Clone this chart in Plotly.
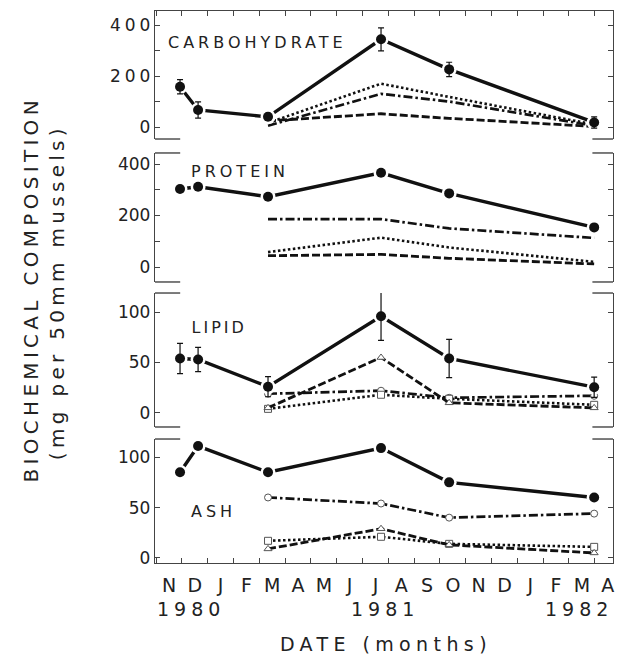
import plotly.graph_objects as go

# ---------------- data ----------------
months = ["N", "D", "J", "F", "M", "A", "M", "J", "J", "A", "S", "O", "N", "D", "J", "F", "M", "A"]
years = ["1980", "1981", "1982"]
# sampling dates, expressed in months after 1 Nov 1980
sample_months = [0.93, 1.63, 4.34, 8.72, 11.36, 16.98]
tissue_months = sample_months[2:]

carb_total = [158, 67, 40, 344, 226, 18]
carb_err = [28, 32, 14, 45, 28, 22]
carb_dot = [16, 170, 118, 10]
carb_dashdot = [5, 130, 100, 5]
carb_dash = [24, 52, 34, 2]

prot_total = [303, 312, 273, 366, 286, 154]
prot_dashdot = [186, 186, 150, 113]
prot_dot = [58, 114, 76, 20]
prot_dash = [44, 49, 34, 12]

lip_total = [54, 53, 26, 96, 54, 25.5]
lip_err = [15, 12, 10, 24, 19, 10]
lip_dashdot = [19, 22, 15, 17]
lip_dot = [4, 18, 14, 8]
lip_dash = [5, 55, 10, 5]

ash_total = [85, 111, 85, 109, 75, 60]
ash_dashdot = [60, 54, 40, 44]
ash_dot = [17, 21, 14, 11]
ash_dash = [9, 29, 13, 5]

panels = [
    dict(name="CARBOHYDRATE", total=carb_total, err=carb_err, dot=carb_dot, dashdot=carb_dashdot,
         dash=carb_dash, hollow=False),
    dict(name="PROTEIN", total=prot_total, err=None, dot=prot_dot, dashdot=prot_dashdot,
         dash=prot_dash, hollow=False),
    dict(name="LIPID", total=lip_total, err=lip_err, dot=lip_dot, dashdot=lip_dashdot,
         dash=lip_dash, hollow=True),
    dict(name="ASH", total=ash_total, err=None, dot=ash_dot, dashdot=ash_dashdot,
         dash=ash_dash, hollow=True),
]

# ---------------- style ----------------
FONT = "DejaVu Sans"
INK = "#111111"
AXC = "#444444"
XRANGE = [-0.04, 17.71]
domains = [[0.7681, 1.0], [0.5091, 0.7428], [0.2464, 0.4891], [0.0, 0.2246]]
yranges = [[-47, 455], [-58, 443], [-14, 119], [-5, 118]]
label_pos = [(0.2238, 0.9438), (0.1856, 0.7101), (0.1397, 0.4275), (0.1277, 0.0942)]

fig = go.Figure()

for i, p in enumerate(panels):
    xa = "x" if i == 0 else f"x{i+1}"
    ya = "y" if i == 0 else f"y{i+1}"
    sec = [
        (p["dashdot"], "9px,3px,2.5px,3px", 2.7, "circle"),
        (p["dot"], "2.5px,2.5px", 2.6, "square"),
        (p["dash"], "8px,3px", 2.8, "triangle-up"),
    ]
    for vals, dash, w, sym in sec:
        fig.add_trace(go.Scatter(
            x=tissue_months, y=vals, xaxis=xa, yaxis=ya,
            mode="lines+markers" if p["hollow"] else "lines",
            line=dict(color=INK, width=w, dash=dash),
            marker=dict(symbol=sym, size=7, color="white", line=dict(color="#555555", width=1)),
            showlegend=False, hoverinfo="skip"))
    # whole-body line
    fig.add_trace(go.Scatter(
        x=sample_months, y=p["total"], xaxis=xa, yaxis=ya, mode="lines",
        line=dict(color=INK, width=3.4), showlegend=False, hoverinfo="skip"))
    # white gap around points
    fig.add_trace(go.Scatter(
        x=sample_months, y=p["total"], xaxis=xa, yaxis=ya, mode="markers",
        marker=dict(size=15, color="white"), showlegend=False, hoverinfo="skip"))
    # filled points with error bars
    ey = dict(type="data", array=p["err"], visible=True, color=INK, thickness=1.2, width=3) \
        if p["err"] is not None else None
    fig.add_trace(go.Scatter(
        x=sample_months, y=p["total"], xaxis=xa, yaxis=ya, mode="markers",
        marker=dict(size=10, color=INK), error_y=ey, showlegend=False, hoverinfo="skip"))

layout = dict(
    width=617, height=662,
    margin=dict(l=155, r=4, t=11, b=99),
    paper_bgcolor="white", plot_bgcolor="white",
    font=dict(family=FONT, color="#222222"),
    showlegend=False,
)

for i in range(4):
    xk = "xaxis" if i == 0 else f"xaxis{i+1}"
    yk = "yaxis" if i == 0 else f"yaxis{i+1}"
    ya = "y" if i == 0 else f"y{i+1}"
    big = i < 2
    yax = dict(
        domain=domains[i], range=yranges[i], anchor="x" if i == 0 else f"x{i+1}",
        showgrid=False, zeroline=False, showline=True, linecolor=AXC, linewidth=1.4,
        mirror="allticks", ticks="inside", ticklen=5, tickwidth=1, tickcolor=AXC,
        tickvals=[0, 200, 400] if big else [0, 50, 100],
        tickfont=dict(family=FONT, size=17, color="#222222"),
    )
    if big:
        yax["minor"] = dict(dtick=100, tick0=0, ticks="inside", ticklen=5, tickcolor=AXC, tickwidth=1)
    layout[yk] = yax
    xax = dict(range=XRANGE, anchor=ya, showgrid=False, zeroline=False)
    if i == 0:
        xax.update(side="top", showline=True, linecolor=AXC, linewidth=1.4, ticks="inside",
                   ticklen=5, tickcolor=AXC, tickvals=list(range(18)), showticklabels=False)
    elif i == 3:
        xax.update(side="bottom", showline=True, linecolor=AXC, linewidth=1.4, ticks="inside",
                   ticklen=5, tickcolor=AXC, tickvals=list(range(18)), ticktext=months,
                   ticklabelshift=13, ticklabelstandoff=5,
                   tickfont=dict(family=FONT, size=19, color="#222222"))
    else:
        xax.update(visible=False)
    layout[xk] = xax

annotations = []
for p, (ax_, ay_) in zip(panels, label_pos):
    annotations.append(dict(text=p["name"], x=ax_, y=ay_, xref="paper", yref="paper",
                            xanchor="center", yanchor="middle", showarrow=False,
                            font=dict(family=FONT, size=16, color="#222222")))
annotations.append(dict(text="BIOCHEMICAL COMPOSITION", x=-0.2707, y=0.4946, xref="paper", yref="paper",
                        textangle=-90, xanchor="center", yanchor="middle", showarrow=False,
                        font=dict(family=FONT, size=20, color="#222222")))
annotations.append(dict(text="(mg per 50mm mussels)", x=-0.214, y=0.4909, xref="paper", yref="paper",
                        textangle=-90, xanchor="center", yanchor="middle", showarrow=False,
                        font=dict(family=FONT, size=20, color="#222222")))
for yr, xp in zip(years, [0.0786, 0.5022, 0.9258]):
    annotations.append(dict(text=yr, x=xp, y=-0.0833, xref="paper", yref="paper",
                            xanchor="center", yanchor="middle", showarrow=False,
                            font=dict(family=FONT, size=19, color="#222222")))
annotations.append(dict(text="DATE (months)", x=0.5044, y=-0.1467, xref="paper", yref="paper",
                        xanchor="center", yanchor="middle", showarrow=False,
                        font=dict(family=FONT, size=19, color="#222222")))
layout["annotations"] = annotations

# bracket stubs at the inner panel edges
shapes = []
for yv in [domains[0][0], domains[1][1], domains[1][0], domains[2][1], domains[2][0], domains[3][1]]:
    for x0, x1 in [(0.0, 0.055), (0.955, 1.0)]:
        shapes.append(dict(type="line", xref="paper", yref="paper", x0=x0, x1=x1, y0=yv, y1=yv,
                           line=dict(color=AXC, width=1.4)))
layout["shapes"] = shapes

fig.update_layout(**layout)

post = """
var gd = document.getElementById('{plot_id}');
var sp = {'CARBOHYDRATE':4,'PROTEIN':4,'LIPID':3,'ASH':4,
          'BIOCHEMICAL COMPOSITION':4.3,'(mg per 50mm mussels)':4.3,
          'DATE (months)':5.4,'1980':5,'1981':5,'1982':5};
gd.querySelectorAll('text').forEach(function(t){
  var s = sp[t.textContent];
  if (s !== undefined) { t.style.letterSpacing = s + 'px'; }
});
gd.querySelectorAll('.ytick text').forEach(function(t){
  t.style.letterSpacing = '4px';
  t.setAttribute('dx', '4');
});
"""

fig.write_html("out.html", post_script=post)
